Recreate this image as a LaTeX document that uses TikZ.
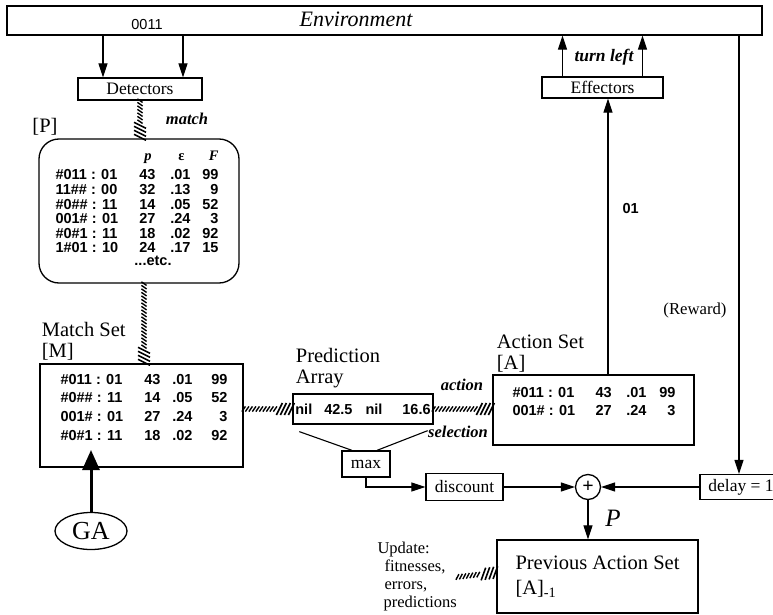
\documentclass[tikz,border=0pt]{standalone}
\usepackage{fontspec}
\setmainfont{Liberation Serif}
\setsansfont{Liberation Sans}
\usepackage{array}
\usetikzlibrary{arrows.meta,positioning,shapes.geometric,decorations.markings}
\newcolumntype{R}[1]{>{\raggedleft\arraybackslash}p{#1}}

\begin{document}
\begin{tikzpicture}[x=1pt, y=-1pt, line width=1.1pt, line/.style={-{Triangle[length=14pt,width=9pt]}}, thick line/.style={line width=3pt,-{Triangle[length=20pt,width=17pt]}}, box/.style={rectangle,draw,line width=1.3pt,inner sep=0pt}, boxtext/.style={font=\fontsize{17.5}{18}\selectfont}, lbl/.style={font=\fontsize{20.5}{21}\selectfont,align=left,inner sep=0pt}, tag/.style={font=\fontsize{16.5}{18}\selectfont\bfseries\itshape,inner sep=0pt}, tbl/.style={font=\sffamily\bfseries\fontsize{14.5}{14.5}\selectfont,inner sep=0pt,anchor=base west}, hatch/.style={decorate,decoration={markings, mark=between positions 0 and -15pt step 3.5pt with {\draw[line width=1.4pt] (-1.8pt,-2.6pt) -- (1.8pt,2.6pt);}, mark=between positions -13pt and -1pt step 4pt with {\draw[line width=1.6pt] (-3pt,-6pt) -- (3pt,6pt);}}}]
\useasboundingbox (0,0) rectangle (773,615);
\node[box,minimum width=755pt,minimum height=29pt] (env) at (384.5,20.5) {};
\node[font=\sffamily\fontsize{14.5}{14.5}\selectfont] (inp) at (147,25) {0011};
\node[font=\fontsize{22}{22}\selectfont\itshape] (envt) at (356,19) {Environment};
\node[box,boxtext,minimum width=124pt,minimum height=22pt] (det) at (140,89) {Detectors};
\node[box,boxtext,minimum width=121pt,minimum height=21pt] (eff) at (602.5,87.5) {Effectors};
\node[tag,font=\fontsize{17.5}{18}\selectfont\bfseries\itshape] (turn) at (604,57) {turn left};
\node[box,rounded corners=20pt,minimum width=200pt,minimum height=144pt] (pop) at (139,211) {};
\node[lbl] (plbl) at (45,127) {[P]};
\node[tag] (mtch) at (187,119) {match};
\node[tbl] (ptab) at (55,160) {\begin{tabular}[t]{@{}p{70pt}@{}R{30pt}@{}R{35pt}@{}R{28pt}@{}}
 & {\rmfamily\bfseries\itshape p}\hspace*{4pt} & {\rmfamily\bfseries ε}\hspace*{6pt} & {\rmfamily\bfseries\itshape F}\\[5.5pt]
\#011 : 01 & 43 & .01 & 99\\
11\#\# : 00 & 32 & .13 & 9\\
\#0\#\# : 11 & 14 & .05 & 52\\
001\# : 01 & 27 & .24 & 3\\
\#0\#1 : 11 & 18 & .02 & 92\\
1\#01 : 10 & 24 & .17 & 15
\end{tabular}};
\node[font=\sffamily\bfseries\fontsize{14.5}{14.5}\selectfont] (petc) at (153,261) {...etc.};
\node[box,minimum width=203pt,minimum height=103pt] (mset) at (141.5,415.5) {};
\node[lbl,above right=3pt and 2pt of mset.north west] (mlbl) {Match Set\\{}[M]};
\node[tbl,font=\sffamily\bfseries\fontsize{14.5}{18.7}\selectfont] (mtab) at (60,384) {\begin{tabular}[t]{@{}p{72pt}@{}R{28pt}@{}R{32pt}@{}R{35pt}@{}}
\#011 : 01 & 43 & .01 & 99\\
\#0\#\# : 11 & 14 & .05 & 52\\
001\# : 01 & 27 & .24 & 3\\
\#0\#1 : 11 & 18 & .02 & 92
\end{tabular}};
\node[ellipse,draw,line width=1.3pt,minimum width=72pt,minimum height=37pt,inner sep=0pt,font=\fontsize{26}{26}\selectfont] (ga) at (91,531) {GA};
\coordinate (gatip) at (91,450);
\node[box,minimum width=140pt,minimum height=30pt,font=\sffamily\bfseries\fontsize{14.5}{14.5}\selectfont] (parr) at (363,409) {nil\hspace{12pt}42.5\hspace{13pt}nil\hspace{20pt}16.6};
\node[lbl,above right=4.5pt and 3pt of parr.north west] (palbl) {Prediction\\Array};
\node[tag] (act) at (462,385) {action};
\node[tag] (sel) at (458,432) {selection};
\node[box,minimum width=201pt,minimum height=70pt] (aset) at (593.5,410) {};
\node[lbl,above right=2pt and 4pt of aset.north west] (albl) {Action Set\\{}[A]};
\node[tbl,font=\sffamily\bfseries\fontsize{14.5}{18}\selectfont] (atab) at (512,397) {\begin{tabular}[t]{@{}p{83pt}@{}R{16pt}@{}R{35pt}@{}R{29pt}@{}}
\#011 : 01 & 43 & .01 & 99\\
001\# : 01 & 27 & .24 & 3
\end{tabular}};
\node[box,boxtext,minimum width=48pt,minimum height=26pt] (mx) at (366,464) {max};
\node[box,boxtext,minimum width=77pt,minimum height=27pt] (disc) at (464.5,487) {discount};
\node[circle,draw,line width=1.3pt,minimum size=25pt,inner sep=0pt,font=\fontsize{20}{20}\selectfont\bfseries] (sum) at (588,487) {+};
\node[box,boxtext,minimum width=82pt,minimum height=25pt] (dly) at (741,487) {delay = 1};
\node[font=\fontsize{16.7}{18}\selectfont,inner sep=0pt] (rwd) at (695,310) {(Reward)};
\coordinate (rtap) at (739,0);
\node[font=\fontsize{25}{25}\selectfont\itshape,inner sep=0pt] (pval) at (613,518) {P};
\node[box,minimum width=201pt,minimum height=73pt,align=left,font=\fontsize{20.5}{25}\selectfont] (prev) at (597.5,576.5) {Previous Action Set\\{}[A]\textsubscript{-1}};
\node[font=\fontsize{16.5}{18}\selectfont,align=left,inner sep=0pt,anchor=west] (upd) at (377,577) {Update:\\\hspace*{7pt}fitnesses,\\\hspace*{7pt}errors,\\\hspace*{6pt}predictions};
\draw[line] ([xshift=-37pt]det.north |- env.south) -- ([xshift=-37pt]det.north);
\draw[line] ([xshift=43pt]det.north |- env.south) -- ([xshift=43pt]det.north);
\draw[line] ([xshift=-40pt]eff.north) -- ([xshift=-40pt]eff.north |- env.south);
\draw[line] ([xshift=40pt]eff.north) -- ([xshift=40pt]eff.north |- env.south);
\draw[line] ([xshift=14.5pt]aset.north) -- node[pos=.6,right=14pt,font=\sffamily\bfseries\fontsize{14.5}{14.5}\selectfont,inner sep=0pt]{01} ([xshift=14.5pt]aset.north |- eff.south);
\draw[line] (rtap |- env.south) -- (rtap |- dly.north);
\path[hatch] (det.south) -- (det.south |- pop.north);
\path[hatch] ([xshift=5pt]pop.south) -- ([xshift=5pt]pop.south |- mset.north);
\path[hatch] (mset.east |- parr.west) -- (parr.west);
\path[hatch] (parr.east) -- (parr.east -| aset.west);
\path[hatch] (upd.east) -- ([yshift=4pt]prev.west);
\draw[thick line] (ga) -- (gatip);
\draw ([xshift=7pt,yshift=-7pt]parr.south west) -- ([xshift=-14pt]mx.north);
\draw ([xshift=-6pt,yshift=-6pt]parr.south east) -- ([xshift=11pt]mx.north);
\draw[line] (mx.south) |- (disc.west);
\draw[line] (disc) -- (sum);
\draw[line] (dly) -- (sum);
\draw[line] (sum.south) -- (sum.south |- prev.north);
\end{tikzpicture}
\end{document}
